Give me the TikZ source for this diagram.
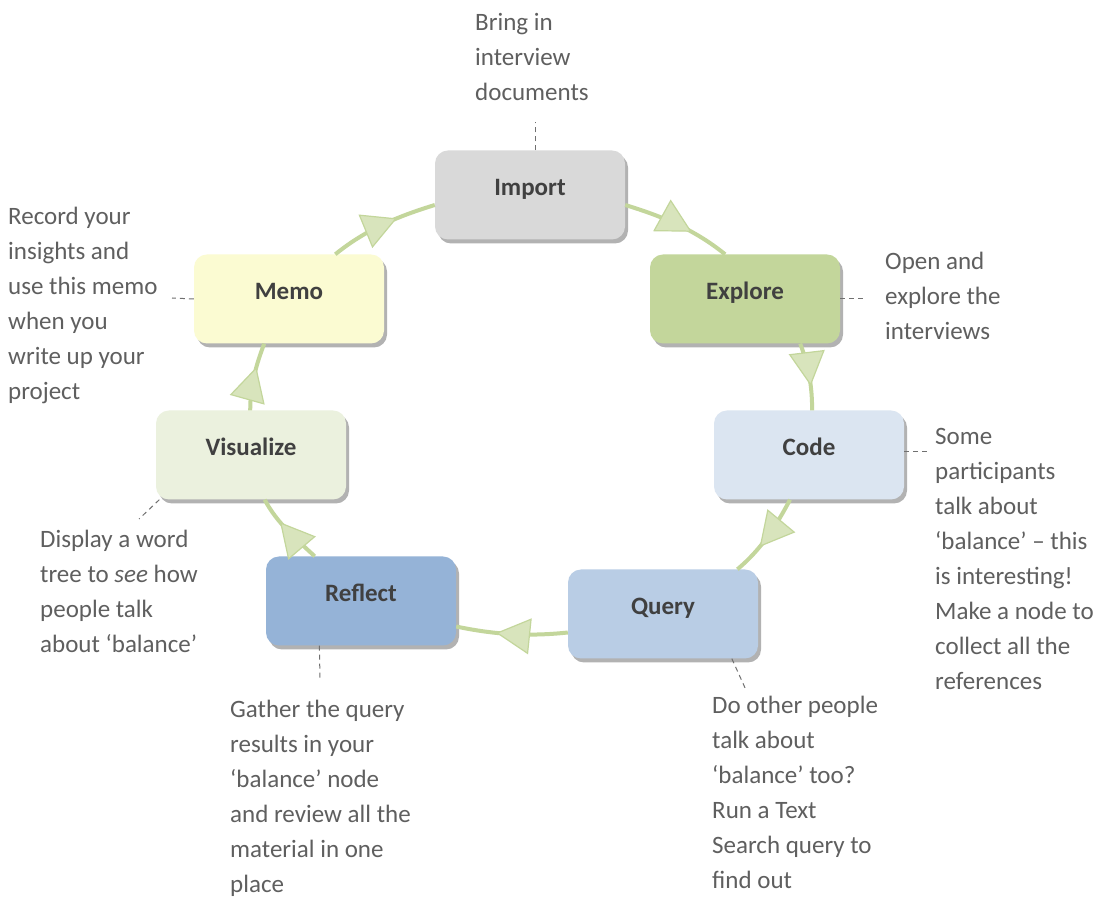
\documentclass[tikz,border=0pt]{standalone}
\usepackage{fontspec}
\setmainfont{Carlito}
\usetikzlibrary{arrows.meta,decorations.markings,shadows}
\definecolor{cImport}{HTML}{D9D9D9}
\definecolor{cExplore}{HTML}{C3D69B}
\definecolor{cCode}{HTML}{DBE5F1}
\definecolor{cQuery}{HTML}{B9CDE5}
\definecolor{cReflect}{HTML}{95B3D7}
\definecolor{cVisual}{HTML}{EBF1DE}
\definecolor{cMemo}{HTML}{FBFBD2}
\definecolor{arcline}{HTML}{C3D69B}
\definecolor{arcfill}{HTML}{D8E4BC}
\definecolor{labtext}{HTML}{404040}
\definecolor{notetext}{HTML}{5F5F5F}
\definecolor{dashgray}{HTML}{707070}
\tikzset{
  stage/.style={rectangle, rounded corners=13pt, minimum width=190pt, minimum height=89pt,
    inner sep=0pt, text height=17pt, text depth=16pt, text=labtext,
    font=\fontsize{25}{30}\selectfont\bfseries,
    drop shadow={shadow xshift=3pt, shadow yshift=-4pt, opacity=0.3, fill=black}},
  note/.style={anchor=north west, inner sep=0pt, align=left, text=notetext,
    font=\fontsize{25}{35}\selectfont},
  cycle/.style={draw=arcline, line width=4pt, looseness=0.9,
    postaction={decorate},
    decoration={markings, mark=at position 0.64 with {\arrow{Triangle[length=34pt,width=36pt,line width=1.2pt,color=arcline,fill=arcfill]}}}},
  noteline/.style={draw=dashgray, line width=1pt, dash pattern=on 5pt off 4pt}
}
\begin{document}
\begin{tikzpicture}[x=1pt,y=1pt]
\useasboundingbox[fill=white] (0,0) rectangle (1107,899);
\coordinate (pI) at (530,704);
\coordinate (pE) at (745,600);
\coordinate (pC) at (809,444);
\coordinate (pQ) at (663,285);
\coordinate (pR) at (361,298);
\coordinate (pV) at (251,444);
\coordinate (pM) at (289,600);
\node[stage, fill=cImport] (import) at (pI) {Import};
\node[stage, fill=cExplore] (explore) at (pE) {Explore};
\node[stage, fill=cCode] (code) at (pC) {Code};
\node[stage, fill=cQuery] (query) at (pQ) {Query};
\node[stage, fill=cReflect] (reflect) at (pR) {Reflect};
\node[stage, fill=cVisual] (visualize) at (pV) {Visualize};
\node[stage, fill=cMemo] (memo) at (pM) {Memo};

\draw[cycle] (import.-6) to[out=-17, in=141] (explore.114);
\draw[cycle] (explore.-39) to[out=-69, in=90] (code.86);
\draw[cycle] (code.-113) to[out=-118, in=40] (query.31);
\draw[cycle] (query.191) to[out=186, in=-12] (reflect.-15);
\draw[cycle] (reflect.136) to[out=137, in=-62] (visualize.-73);
\draw[cycle] (visualize.91) to[out=90, in=-111] (memo.-119);
\draw[cycle] (memo.44) to[out=39, in=197] (import.186);

% notes
\node[note] (nImport) at (475,886) {Bring in\\interview\\documents};
\node[note] (nExplore) at (885,647) {Open and\\explore the\\interviews};
\node[note] (nCode) at (935,471) {Some\\participants\\talk about\\‘balance’ – this\\is interesting!\\Make a node to\\collect all the\\references};
\node[note] (nQuery) at (712,203) {Do other people\\talk about\\‘balance’ too?\\Run a Text\\Search query to\\find out};
\node[note] (nReflect) at (230,199) {Gather the query\\results in your\\‘balance’ node\\and review all the\\material in one\\place};
\node[note] (nVisual) at (40,369) {Display a word\\tree to \textit{see} how\\people talk\\about ‘balance’};
\node[note] (nMemo) at (8,692) {Record your\\insights and\\use this memo\\when you\\write up your\\project};

% dashed leaders
\coordinate (dI) at (535,777);
\coordinate (dE) at (864,600);
\coordinate (dC) at (930,447);
\coordinate (dQ) at (746,209);
\coordinate (dR) at (320,221);
\coordinate (dV) at (139,380);
\coordinate (dM) at (172,601);
\draw[noteline] ([xshift=5pt]import.north) -- (dI);
\draw[noteline] (explore.east) -- (dE);
\draw[noteline] ([yshift=3pt]code.east) -- (dC);
\draw[noteline] (query.-33) -- (dQ);
\draw[noteline] (reflect.-133) -- (dR);
\draw[noteline] (visualize.-154) -- (dV);
\draw[noteline] (memo.west) -- (dM);
\end{tikzpicture}
\end{document}
